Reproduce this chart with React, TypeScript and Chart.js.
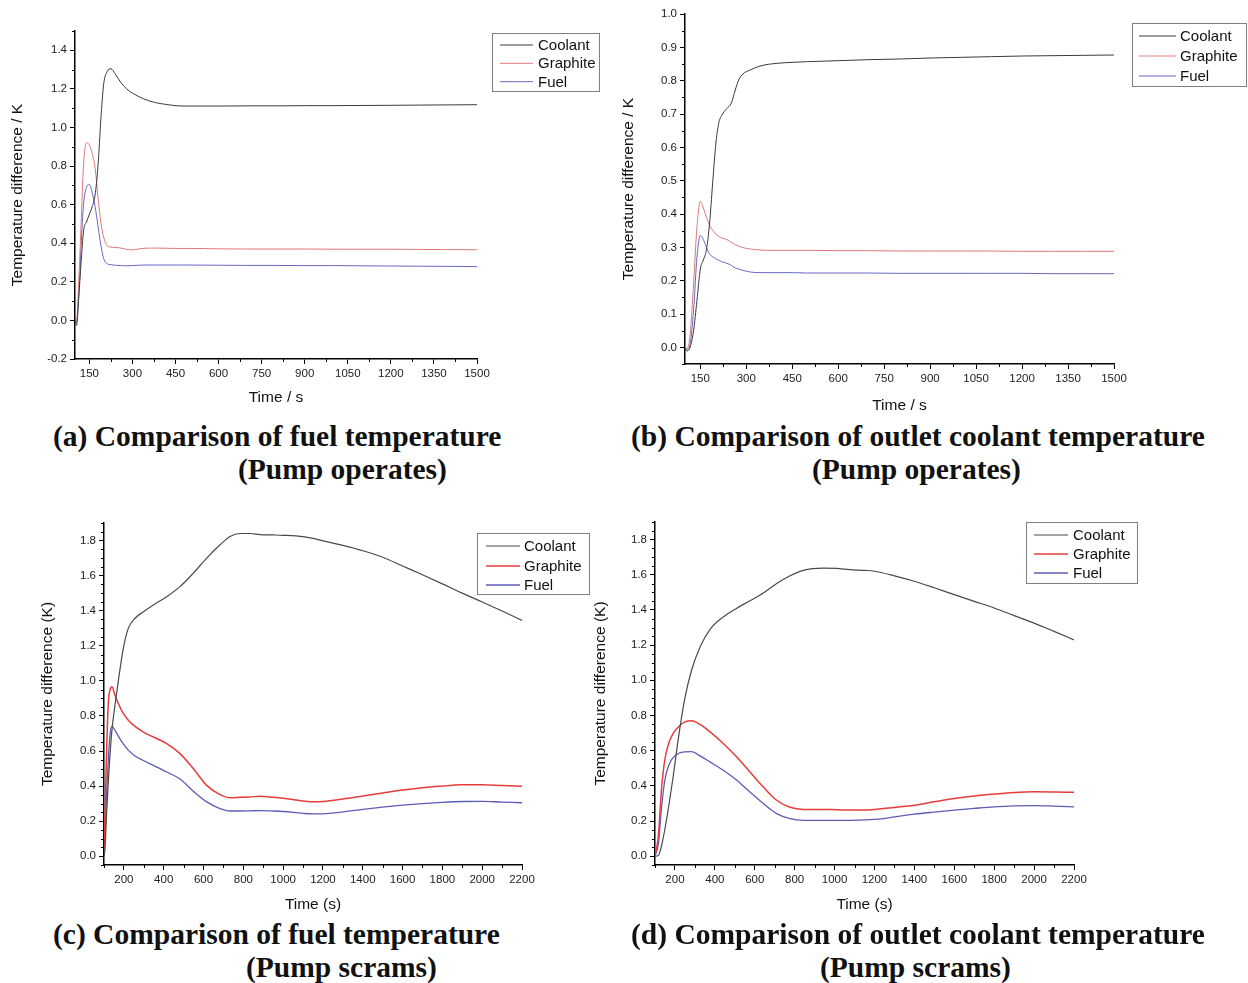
import React, { useEffect, useRef } from 'react';
import { Chart, registerables } from 'chart.js';

Chart.register(...registerables);

const SERIES_LABELS = ['Coolant', 'Graphite', 'Fuel'];

// ---------- (a) fuel temperature, pump operates ----------
const timeA = [100, 105, 113, 121, 130, 140, 150, 160, 170, 180, 190, 200, 212, 225, 240, 260, 280, 300, 340, 380, 420, 460, 500, 600, 700, 800, 900, 1000, 1100, 1200, 1300, 1400, 1500];
const coolantA = [0.0, -0.026, 0.12, 0.295, 0.466, 0.51, 0.55, 0.59, 0.65, 0.8, 1.04, 1.226, 1.29, 1.304, 1.278, 1.232, 1.2, 1.178, 1.148, 1.129, 1.119, 1.112, 1.111, 1.111, 1.112, 1.112, 1.113, 1.113, 1.114, 1.115, 1.116, 1.117, 1.118];
const graphiteA = [0.0, -0.01, 0.2, 0.49, 0.81, 0.92, 0.91, 0.865, 0.79, 0.64, 0.51, 0.43, 0.387, 0.38, 0.378, 0.375, 0.368, 0.366, 0.374, 0.375, 0.374, 0.373, 0.373, 0.371, 0.37, 0.37, 0.37, 0.369, 0.369, 0.369, 0.368, 0.367, 0.366];
const fuelA = [0.0, -0.01, 0.12, 0.38, 0.605, 0.69, 0.705, 0.66, 0.59, 0.49, 0.39, 0.32, 0.294, 0.289, 0.286, 0.284, 0.283, 0.284, 0.287, 0.287, 0.287, 0.287, 0.287, 0.286, 0.285, 0.285, 0.284, 0.284, 0.283, 0.282, 0.281, 0.28, 0.279];
const xTicksA = [150, 300, 450, 600, 750, 900, 1050, 1200, 1350, 1500];
const yTicksA = [-0.2, 0.0, 0.2, 0.4, 0.6, 0.8, 1.0, 1.2, 1.4];

// ---------- (b) outlet coolant temperature, pump operates ----------
const timeB = [100, 106, 117, 128, 139, 150, 160, 170, 180, 190, 200, 210, 220, 237, 251, 264, 275, 289, 313, 345, 400, 450, 500, 600, 700, 800, 900, 1000, 1100, 1200, 1300, 1400, 1500];
const coolantB = [0.0, -0.011, 0.001, 0.05, 0.14, 0.235, 0.262, 0.293, 0.37, 0.49, 0.605, 0.672, 0.696, 0.717, 0.732, 0.772, 0.802, 0.82, 0.832, 0.844, 0.852, 0.855, 0.857, 0.86, 0.863, 0.865, 0.868, 0.87, 0.872, 0.874, 0.875, 0.876, 0.877];
const graphiteB = [0.0, -0.005, 0.04, 0.191, 0.36, 0.438, 0.418, 0.39, 0.366, 0.352, 0.34, 0.333, 0.328, 0.323, 0.315, 0.308, 0.304, 0.299, 0.295, 0.292, 0.291, 0.291, 0.291, 0.29, 0.29, 0.289, 0.289, 0.289, 0.289, 0.288, 0.288, 0.288, 0.288];
const fuelB = [0.0, -0.008, 0.011, 0.111, 0.27, 0.336, 0.323, 0.3, 0.28, 0.272, 0.266, 0.261, 0.257, 0.252, 0.246, 0.238, 0.235, 0.231, 0.226, 0.224, 0.224, 0.224, 0.223, 0.223, 0.223, 0.222, 0.222, 0.222, 0.222, 0.222, 0.221, 0.221, 0.221];
const xTicksB = [150, 300, 450, 600, 750, 900, 1050, 1200, 1350, 1500];
const yTicksB = [0.0, 0.1, 0.2, 0.3, 0.4, 0.5, 0.6, 0.7, 0.8, 0.9, 1.0];

// ---------- (c) fuel temperature, pump scrams ----------
const timeC = [100, 105, 113, 122, 130, 140, 155, 172, 197, 222, 256, 298, 348, 415, 482, 549, 616, 683, 733, 783, 834, 884, 950, 1000, 1100, 1150, 1200, 1300, 1400, 1500, 1600, 1700, 1800, 1900, 2000, 2100, 2200];
const coolantC = [0.0, 0.042, 0.24, 0.43, 0.575, 0.72, 0.86, 1.0, 1.185, 1.299, 1.357, 1.394, 1.433, 1.48, 1.537, 1.614, 1.7, 1.776, 1.823, 1.84, 1.84, 1.834, 1.832, 1.83, 1.822, 1.812, 1.798, 1.772, 1.742, 1.705, 1.655, 1.605, 1.553, 1.5, 1.45, 1.398, 1.345];
const graphiteC = [0.0, 0.233, 0.6, 0.88, 0.947, 0.966, 0.918, 0.871, 0.814, 0.776, 0.74, 0.708, 0.68, 0.642, 0.585, 0.499, 0.404, 0.351, 0.334, 0.336, 0.338, 0.342, 0.336, 0.33, 0.315, 0.31, 0.312, 0.326, 0.343, 0.36, 0.377, 0.39, 0.4, 0.407, 0.408, 0.403, 0.399];
const fuelC = [0.0, 0.137, 0.36, 0.56, 0.69, 0.742, 0.718, 0.685, 0.64, 0.605, 0.572, 0.546, 0.518, 0.48, 0.44, 0.37, 0.31, 0.272, 0.258, 0.258, 0.259, 0.26, 0.258, 0.255, 0.244, 0.241, 0.242, 0.253, 0.267, 0.28, 0.291, 0.3, 0.307, 0.312, 0.313, 0.309, 0.305];
const xTicksC = [200, 400, 600, 800, 1000, 1200, 1400, 1600, 1800, 2000, 2200];
const yTicksC = [0.0, 0.2, 0.4, 0.6, 0.8, 1.0, 1.2, 1.4, 1.6, 1.8];

// ---------- (d) outlet coolant temperature, pump scrams ----------
const timeD = [100, 117, 133, 150, 172, 192, 217, 250, 284, 326, 376, 442, 510, 576, 643, 710, 777, 843, 944, 1010, 1077, 1150, 1200, 1300, 1400, 1500, 1600, 1700, 1800, 1900, 2000, 2100, 2200];
const coolantD = [0.0, 0.004, 0.061, 0.156, 0.308, 0.46, 0.67, 0.9, 1.06, 1.19, 1.29, 1.36, 1.41, 1.452, 1.496, 1.55, 1.594, 1.625, 1.638, 1.636, 1.629, 1.625, 1.62, 1.594, 1.563, 1.526, 1.487, 1.449, 1.411, 1.368, 1.325, 1.278, 1.23];
const graphiteD = [0.0, 0.118, 0.386, 0.554, 0.653, 0.7, 0.735, 0.764, 0.77, 0.749, 0.707, 0.641, 0.564, 0.479, 0.393, 0.318, 0.278, 0.266, 0.266, 0.264, 0.262, 0.262, 0.266, 0.277, 0.29, 0.31, 0.328, 0.342, 0.353, 0.362, 0.366, 0.365, 0.363];
const fuelD = [0.0, 0.071, 0.28, 0.436, 0.525, 0.562, 0.584, 0.593, 0.594, 0.57, 0.536, 0.489, 0.432, 0.365, 0.299, 0.242, 0.213, 0.204, 0.204, 0.204, 0.204, 0.206, 0.209, 0.223, 0.239, 0.251, 0.262, 0.272, 0.281, 0.286, 0.288, 0.285, 0.281];
const xTicksD = [200, 400, 600, 800, 1000, 1200, 1400, 1600, 1800, 2000, 2200];
const yTicksD = [0.0, 0.2, 0.4, 0.6, 0.8, 1.0, 1.2, 1.4, 1.6, 1.8];

const SANS = '"Liberation Sans", Arial, sans-serif';
const TITLE_SIZE = 15.5;
const TITLE_LH = 18.6;

type PanelCfg = {
  time: number[];
  series: number[][];
  colors: string[];
  widths: number[];
  xMin: number; xMax: number; xTicks: number[]; xMinorStep: number;
  yMin: number; yMax: number; yTicks: number[]; yMinorStep: number;
  xTitle: string; yTitle: string;
  plot: { left: number; top: number; right: number; bottom: number };
  yTitleX: number; xTitleY: number; canvasTop: number; canvasRight: number;
  legend: { x: number; y: number; w: number; h: number; rows: number[]; x0: number; x1: number; tx: number };
};

const OPERATE_COLORS = ['#3a3a3a', '#e07878', '#6868c8'];
const SCRAM_COLORS = ['#4a4a4a', '#e83c3c', '#5c5cb8'];

const panels: PanelCfg[] = [
  {
    time: timeA, series: [coolantA, graphiteA, fuelA], colors: OPERATE_COLORS, widths: [1, 1, 1],
    xMin: 100, xMax: 1500, xTicks: xTicksA, xMinorStep: 75,
    yMin: -0.2, yMax: 1.5, yTicks: yTicksA, yMinorStep: 0.1,
    xTitle: 'Time / s', yTitle: 'Temperature difference / K',
    plot: { left: 75, top: 31, right: 477, bottom: 359 }, yTitleX: 17, xTitleY: 398, canvasTop: 6, canvasRight: 610,
    legend: { x: 492, y: 33, w: 107, h: 58, rows: [45, 63.3, 81.7], x0: 500, x1: 533, tx: 538 },
  },
  {
    time: timeB, series: [coolantB, graphiteB, fuelB], colors: OPERATE_COLORS, widths: [1, 1, 1],
    xMin: 100, xMax: 1500, xTicks: xTicksB, xMinorStep: 75,
    yMin: -0.05, yMax: 1.0, yTicks: yTicksB, yMinorStep: 0.05,
    xTitle: 'Time / s', yTitle: 'Temperature difference / K',
    plot: { left: 685, top: 14, right: 1114, bottom: 364 }, yTitleX: 628, xTitleY: 406, canvasTop: 0, canvasRight: 1248,
    legend: { x: 1132, y: 23, w: 114, h: 63, rows: [36, 56, 76], x0: 1139, x1: 1176, tx: 1180 },
  },
  {
    time: timeC, series: [coolantC, graphiteC, fuelC], colors: SCRAM_COLORS, widths: [1.2, 1.5, 1.3],
    xMin: 100, xMax: 2200, xTicks: xTicksC, xMinorStep: 100,
    yMin: -0.05, yMax: 1.9, yTicks: yTicksC, yMinorStep: 0.05,
    xTitle: 'Time (s)', yTitle: 'Temperature difference (K)',
    plot: { left: 104, top: 523, right: 522, bottom: 865 }, yTitleX: 47, xTitleY: 905, canvasTop: 500, canvasRight: 600,
    legend: { x: 477, y: 533, w: 112, h: 61, rows: [546, 566, 585], x0: 486, x1: 520, tx: 524 },
  },
  {
    time: timeD, series: [coolantD, graphiteD, fuelD], colors: SCRAM_COLORS, widths: [1.2, 1.5, 1.3],
    xMin: 100, xMax: 2200, xTicks: xTicksD, xMinorStep: 100,
    yMin: -0.05, yMax: 1.9, yTicks: yTicksD, yMinorStep: 0.05,
    xTitle: 'Time (s)', yTitle: 'Temperature difference (K)',
    plot: { left: 655, top: 522, right: 1074, bottom: 865 }, yTitleX: 600, xTitleY: 905, canvasTop: 500, canvasRight: 1248,
    legend: { x: 1026, y: 522, w: 111, h: 61, rows: [535, 554, 573], x0: 1034, x1: 1068, tx: 1073 },
  },
];

// caption lines: left edge and baseline (page px)
const captions = [
  { text: '(a) Comparison of fuel temperature', left: 53, base: 446 },
  { text: '(Pump operates)', left: 238, base: 479 },
  { text: '(b) Comparison of outlet coolant temperature', left: 631, base: 446 },
  { text: '(Pump operates)', left: 812, base: 479 },
  { text: '(c) Comparison of fuel temperature', left: 53, base: 944 },
  { text: '(Pump scrams)', left: 246, base: 977 },
  { text: '(d) Comparison of outlet coolant temperature', left: 631, base: 944 },
  { text: '(Pump scrams)', left: 820, base: 977 },
];

function minorTicksPlugin(cfg: PanelCfg) {
  return {
    id: 'minorTicks',
    afterDraw(chart: any) {
      const { ctx, chartArea } = chart;
      const xs = chart.scales.x;
      const ys = chart.scales.y;
      ctx.save();
      ctx.strokeStyle = '#000';
      ctx.lineWidth = 1;
      ctx.beginPath();
      const nx = Math.round((cfg.xMax - cfg.xMin) / cfg.xMinorStep) + 2;
      for (let k = -nx; k <= nx; k++) {
        const v = cfg.xTicks[0] + k * cfg.xMinorStep;
        if (v < cfg.xMin - 1e-6 || v > cfg.xMax + 1e-6) continue;
        if (cfg.xTicks.some((t) => Math.abs(t - v) < 1e-6)) continue;
        const px = Math.round(xs.getPixelForValue(v)) + 0.5;
        ctx.moveTo(px, chartArea.bottom);
        ctx.lineTo(px, chartArea.bottom + 3);
      }
      const ny = Math.round((cfg.yMax - cfg.yMin) / cfg.yMinorStep) + 2;
      for (let k = -ny; k <= ny; k++) {
        const v = k * cfg.yMinorStep;
        if (v < cfg.yMin - 1e-6 || v > cfg.yMax + 1e-6) continue;
        if (cfg.yTicks.some((t) => Math.abs(t - v) < 1e-6)) continue;
        const py = Math.round(ys.getPixelForValue(v)) + 0.5;
        ctx.moveTo(chartArea.left, py);
        ctx.lineTo(chartArea.left - 3, py);
      }
      ctx.stroke();
      ctx.restore();
    },
  };
}

function boxLegendPlugin(cfg: PanelCfg, ox: number, oy: number) {
  return {
    id: 'boxLegend',
    afterDraw(chart: any) {
      const ctx = chart.ctx;
      const lg = cfg.legend;
      ctx.save();
      ctx.strokeStyle = '#808080';
      ctx.lineWidth = 1;
      ctx.strokeRect(Math.round(lg.x - ox) + 0.5, Math.round(lg.y - oy) + 0.5, lg.w, lg.h);
      chart.data.datasets.forEach((ds: any, i: number) => {
        const y = lg.rows[i] - oy;
        ctx.strokeStyle = ds.borderColor;
        ctx.lineWidth = ds.borderWidth;
        ctx.beginPath();
        ctx.moveTo(lg.x0 - ox, y);
        ctx.lineTo(lg.x1 - ox, y);
        ctx.stroke();
        ctx.fillStyle = '#111';
        ctx.font = `15px ${SANS}`;
        ctx.textBaseline = 'middle';
        ctx.textAlign = 'left';
        ctx.fillText(ds.label, lg.tx - ox, y + 1);
      });
      ctx.restore();
    },
  };
}

function Panel({ cfg }: { cfg: PanelCfg }) {
  const ref = useRef<HTMLCanvasElement>(null);
  const left = Math.round(cfg.yTitleX - TITLE_LH / 2);
  const top = cfg.canvasTop;
  const width = cfg.canvasRight - left;
  const xh = Math.round(cfg.xTitleY + TITLE_LH / 2 - cfg.plot.bottom);
  const height = cfg.plot.bottom + xh - top;
  const yw = cfg.plot.left - left;

  useEffect(() => {
    const canvas = ref.current;
    if (!canvas) return;
    const tickFont = { family: SANS, size: 11.5 };
    const titleFont = { family: SANS, size: TITLE_SIZE, lineHeight: 1.2 };
    const chart = new Chart(canvas, {
      type: 'line',
      data: {
        datasets: cfg.series.map((s, i) => ({
          label: SERIES_LABELS[i],
          data: cfg.time.map((t, j) => ({ x: t, y: s[j] })),
          borderColor: cfg.colors[i],
          backgroundColor: cfg.colors[i],
          borderWidth: cfg.widths[i],
          pointRadius: 0,
          fill: false,
          cubicInterpolationMode: 'monotone' as const,
        })),
      },
      options: {
        animation: false,
        responsive: false,
        devicePixelRatio: 1,
        events: [],
        layout: { padding: { left: 0, top: cfg.plot.top - top, right: cfg.canvasRight - cfg.plot.right, bottom: 0 } },
        plugins: { legend: { display: false }, tooltip: { enabled: false } },
        scales: {
          x: {
            type: 'linear',
            min: cfg.xMin,
            max: cfg.xMax,
            afterBuildTicks: (s: any) => { s.ticks = cfg.xTicks.map((v) => ({ value: v })); },
            afterFit: (s: any) => { s.height = xh; },
            ticks: { font: tickFont, color: '#222', padding: 3, maxRotation: 0, autoSkip: false, callback: (v: any) => String(v) },
            grid: { display: true, drawOnChartArea: false, drawTicks: true, tickLength: 5, tickColor: '#000', tickWidth: 1 },
            border: { display: true, color: '#000', width: 1.5 },
            title: { display: true, text: cfg.xTitle, font: titleFont, color: '#111', padding: 0 },
          },
          y: {
            type: 'linear',
            min: cfg.yMin,
            max: cfg.yMax,
            afterBuildTicks: (s: any) => { s.ticks = cfg.yTicks.map((v) => ({ value: v })); },
            afterFit: (s: any) => { s.width = yw; },
            ticks: { font: tickFont, color: '#222', padding: 3, autoSkip: false, callback: (v: any) => Number(v).toFixed(1) },
            grid: { display: true, drawOnChartArea: false, drawTicks: true, tickLength: 5, tickColor: '#000', tickWidth: 1 },
            border: { display: true, color: '#000', width: 1.5 },
            title: { display: true, text: cfg.yTitle, font: titleFont, color: '#111', padding: 0 },
          },
        },
      },
      plugins: [minorTicksPlugin(cfg), boxLegendPlugin(cfg, left, top)],
    } as any);
    return () => chart.destroy();
  }, []);

  return (
    <canvas
      ref={ref}
      width={width}
      height={height}
      style={{ position: 'absolute', left, top, width, height }}
    />
  );
}

export default function App() {
  return (
    <div style={{ position: 'absolute', left: 0, top: 0, width: 1248, height: 983, background: '#fff', overflow: 'hidden' }}>
      {panels.map((p, i) => (
        <Panel key={i} cfg={p} />
      ))}
      {captions.map((c, i) => (
        <div
          key={'c' + i}
          style={{
            position: 'absolute',
            left: c.left,
            top: c.base - 24.8,
            lineHeight: '30px',
            fontFamily: '"Liberation Serif", "Times New Roman", serif',
            fontWeight: 'bold',
            fontSize: 29.5,
            color: '#111',
            whiteSpace: 'nowrap',
          }}
        >
          {c.text}
        </div>
      ))}
    </div>
  );
}
